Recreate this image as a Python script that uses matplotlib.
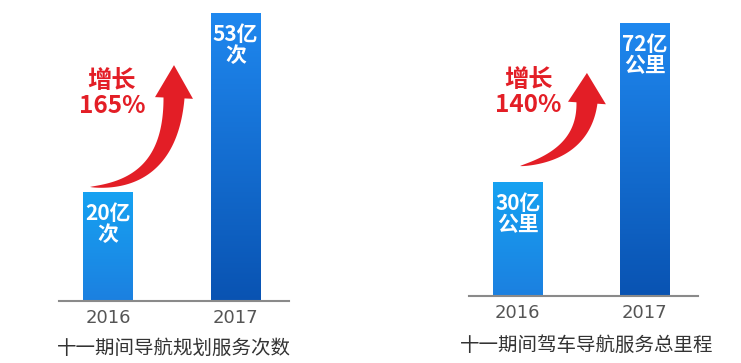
import numpy as np
import matplotlib
matplotlib.use("Agg")
import matplotlib.pyplot as plt
from matplotlib.patches import Polygon
from matplotlib.colors import LinearSegmentedColormap

plt.rcParams['font.family'] = ['Noto Sans CJK SC', 'DejaVu Sans']

# data
years = ["2016", "2017"]
trips = [20, 53]            # 亿次
trip_labels = ["20亿\n次", "53亿\n次"]
trip_growth = "增长\n165%"
trip_title = "十一期间导航规划服务次数"

km = [30, 72]               # 亿公里
km_labels = ["30亿\n公里", "72亿\n公里"]
km_growth = "增长\n140%"
km_title = "十一期间驾车导航服务总里程"

RED = "#e31e26"
grad_2016 = LinearSegmentedColormap.from_list("g16", ["#1c80e0", "#16a2f2"])
grad_2017 = LinearSegmentedColormap.from_list("g17", ["#0953b2", "#1f88ef"])

W, H = 741, 363
fig = plt.figure(figsize=(W / 100, H / 100), dpi=100)


def curved_arrow(ax, tail, ctrl, base, tip, shaft_w, head_w):
    # tapered bezier arrow, built in pixel space then mapped back to axes fraction
    s = np.array([ax.bbox.width, ax.bbox.height])
    p0, p1, p2, pt = [np.array(p) * s for p in (tail, ctrl, base, tip)]
    t = np.linspace(0, 1, 80)[:, None]
    B = (1 - t) ** 2 * p0 + 2 * (1 - t) * t * p1 + t ** 2 * p2
    dB = 2 * (1 - t) * (p1 - p0) + 2 * t * (p2 - p1)
    n = np.column_stack([-dB[:, 1], dB[:, 0]])
    n /= np.linalg.norm(n, axis=1)[:, None]
    half = shaft_w / 2 * t ** 0.75
    left = B + n * half
    right = B - n * half
    ne = n[-1]
    head = [p2 + ne * head_w / 2, pt, p2 - ne * head_w / 2]
    pts = np.vstack([left, head, right[::-1]]) / s
    ax.add_patch(Polygon(pts, closed=True, transform=ax.transAxes,
                         facecolor=RED, edgecolor="none", clip_on=False, zorder=3))


def panel(rect, values, labels, growth, growth_xy, arrow):
    ax = fig.add_axes(rect)
    x = np.arange(len(values))
    bars = ax.bar(x, values, width=0.39, color="none", zorder=2)
    grad = np.linspace(0, 1, 256)[:, None]
    for b, cm in zip(bars, [grad_2016, grad_2017]):
        x0, w, h = b.get_x(), b.get_width(), b.get_height()
        ax.imshow(grad, cmap=cm, origin="lower", aspect="auto",
                  extent=[x0, x0 + w, 0, h], zorder=2)
    ax.set_xlim(-0.385, 1.42)
    ax.set_ylim(0, max(values))
    for b, lab in zip(bars, labels):
        ax.annotate(lab, (b.get_x() + b.get_width() / 2, b.get_height()),
                    xytext=(0, -8), textcoords="offset points",
                    ha="center", va="top", color="white", fontsize=15,
                    fontweight="bold", linespacing=1.0, zorder=4)
    ax.text(growth_xy[0], growth_xy[1], growth, transform=ax.transAxes,
            ha="center", va="center", color=RED, fontsize=17.5,
            fontweight="bold", linespacing=1.05)
    curved_arrow(ax, *arrow, shaft_w=21, head_w=38)
    ax.set_xticks(x)
    ax.set_xticklabels(years, fontsize=13, color="#555555", family="DejaVu Sans")
    ax.tick_params(axis="x", length=0, pad=6)
    ax.set_yticks([])
    for side in ["top", "right", "left"]:
        ax.spines[side].set_visible(False)
    ax.spines["bottom"].set_color("#8a8a8a")
    ax.spines["bottom"].set_linewidth(1.5)
    return ax


panel([59 / W, (H - 301) / H, 230 / W, 288 / H], trips, trip_labels, trip_growth,
      (0.23, 0.72),
      ((0.135, 0.396), (0.483, 0.40), (0.50, 0.705), (0.50, 0.819)))
panel([469 / W, (H - 296) / H, 229 / W, 273 / H], km, km_labels, km_growth,
      (0.258, 0.745),
      ((0.223, 0.476), (0.50, 0.52), (0.515, 0.707), (0.515, 0.817)))

fig.text(174 / W, (H - 348) / H, trip_title, ha="center", va="center",
         fontsize=14, color="#333333")
fig.text(587 / W, (H - 345) / H, km_title, ha="center", va="center",
         fontsize=14, color="#333333")

fig.savefig("out.png", dpi=100)
